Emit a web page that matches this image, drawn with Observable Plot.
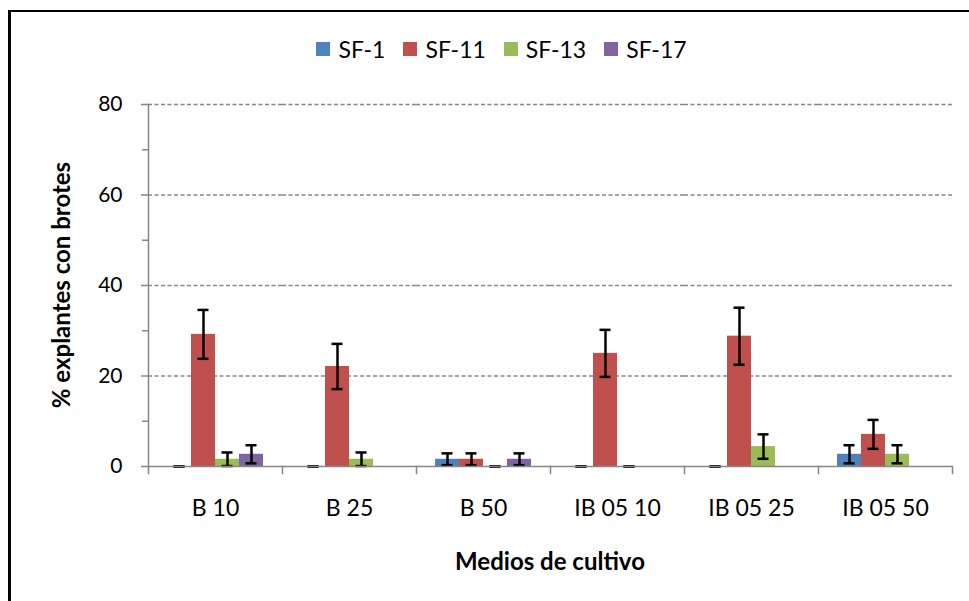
<!DOCTYPE html>
<html>
<head>
<meta charset="utf-8">
<script src="https://cdn.jsdelivr.net/npm/d3@7"></script>
<script src="https://cdn.jsdelivr.net/npm/@observablehq/plot@0.6"></script>
<style>
  html, body { margin: 0; padding: 0; background: #fff; }
  #wrap { position: relative; width: 969px; height: 601px; overflow: hidden; font-family: Lato, "Open Sans", sans-serif; color: #000; }
  #wrap svg { position: absolute; left: 0; top: 0; }
  .bl { position: absolute; left: 8px; top: 10px; width: 2.5px; height: 600px; background: #000; }
  .bt { position: absolute; left: 8px; top: 10px; width: 970px; height: 2px; background: #000; }
  #legend { position: absolute; top: 35px; left: 0; width: 969px; display: flex; justify-content: center; font-size: 23px; padding-left: 34px; box-sizing: border-box; }
  #legend .item { display: flex; align-items: center; margin: 0 9px; }
  #legend .sw { width: 14px; height: 14px; margin-right: 8px; }
  #ytitle { position: absolute; left: 60px; top: 285px; transform: translate(-50%, -50%) rotate(-90deg); font-weight: bold; font-size: 24px; white-space: nowrap; }
  #xtitle { position: absolute; left: 550px; top: 560px; transform: translate(-50%, -50%); font-weight: bold; font-size: 24px; white-space: nowrap; }
</style>
</head>
<body>
<div id="wrap">
  <div class="bl"></div><div class="bt"></div>
</div>
<script>
const categories = ["B 10", "B 25", "B 50", "IB 05 10", "IB 05 25", "IB 05 50"];
const series = ["SF-1", "SF-11", "SF-13", "SF-17"];
const colors = ["#4F81BD", "#C0504D", "#9BBB59", "#8064A2"];
const sf1 = [0, 0, 1.6, 0, 0, 2.7];
const sf11 = [29.2, 22.1, 1.6, 25.0, 28.8, 7.1];
const sf13 = [1.6, 1.6, 0, 0, 4.4, 2.7];
const sf17 = [2.7, null, 1.6, null, null, null];
const sf1Err = [0, 0, 1.3, 0, 0, 2.0];
const sf11Err = [5.4, 5.0, 1.3, 5.2, 6.3, 3.2];
const sf13Err = [1.5, 1.5, 0, 0, 2.7, 2.0];
const sf17Err = [2.0, null, 1.3, null, null, null];
const yTicks = [0, 20, 40, 60, 80];
const yMinorTicks = [10, 30, 50, 70];
const yLabel = "% explantes con brotes";
const xLabel = "Medios de cultivo";

const values = [sf1, sf11, sf13, sf17];
const errs = [sf1Err, sf11Err, sf13Err, sf17Err];
const rows = [];
series.forEach((s, si) => {
  categories.forEach((c, ci) => {
    const v = values[si][ci];
    if (v != null) rows.push({category: c, series: s, value: v, err: errs[si][ci]});
  });
});

const gray = "#868686";
const chart = Plot.plot({
  width: 969,
  height: 601,
  marginLeft: 147,
  marginRight: 16,
  marginTop: 104,
  marginBottom: 135,
  style: {fontFamily: "Lato, 'Open Sans', sans-serif", fontSize: "21px", color: "#000", background: "transparent", overflow: "visible"},
  fx: {domain: categories, padding: 0, label: null},
  x: {domain: series, paddingOuter: 0.686, paddingInner: 0, axis: null},
  y: {domain: [0, 80]},
  color: {domain: series, range: colors},
  marks: [
    Plot.ruleY([20, 40, 60, 80], {stroke: gray, strokeWidth: 1.3, strokeDasharray: "4,2.5"}),
    Plot.barY(rows, {fx: "category", x: "series", y: "value", fill: "series"}),
    Plot.ruleX(rows, {fx: "category", x: "series", y1: d => d.value - d.err, y2: d => d.value + d.err, stroke: "#000", strokeWidth: 2.5}),
    Plot.tickY(rows, {fx: "category", x: "series", y: d => d.value - d.err, stroke: "#000", strokeWidth: 2.5, insetLeft: 6.5, insetRight: 6.5}),
    Plot.tickY(rows, {fx: "category", x: "series", y: d => d.value + d.err, stroke: "#000", strokeWidth: 2.5, insetLeft: 6.5, insetRight: 6.5}),
    Plot.ruleY([0], {stroke: gray, strokeWidth: 1.5}),
    Plot.frame({anchor: "left", facetAnchor: "left", stroke: gray, strokeWidth: 1.5}),
    Plot.frame({anchor: "left", stroke: gray, strokeWidth: 1.5, insetTop: 362, insetBottom: -7}),
    Plot.frame({anchor: "right", facetAnchor: "right", stroke: gray, strokeWidth: 1.5, insetTop: 362, insetBottom: -7}),
    Plot.axisY({ticks: yTicks, tickSize: 7, tickPadding: 19, label: null, stroke: gray, strokeWidth: 1.5, fontSize: 21}),
    Plot.axisY({ticks: yMinorTicks, tickSize: 6, tickFormat: () => "", label: null, stroke: gray, strokeWidth: 1.5}),
    Plot.axisFx({anchor: "bottom", tickSize: 0, tickPadding: 33, label: null, fontSize: 23})
  ]
});

const wrap = document.getElementById("wrap");
wrap.appendChild(chart);

const legend = document.createElement("div");
legend.id = "legend";
series.forEach((s, i) => {
  const item = document.createElement("div");
  item.className = "item";
  const sw = document.createElement("span");
  sw.className = "sw";
  sw.style.background = colors[i];
  const t = document.createElement("span");
  t.textContent = s;
  item.appendChild(sw);
  item.appendChild(t);
  legend.appendChild(item);
});
wrap.appendChild(legend);

const yt = document.createElement("div");
yt.id = "ytitle";
yt.textContent = yLabel;
wrap.appendChild(yt);

const xt = document.createElement("div");
xt.id = "xtitle";
xt.textContent = xLabel;
wrap.appendChild(xt);
</script>
</body>
</html>
